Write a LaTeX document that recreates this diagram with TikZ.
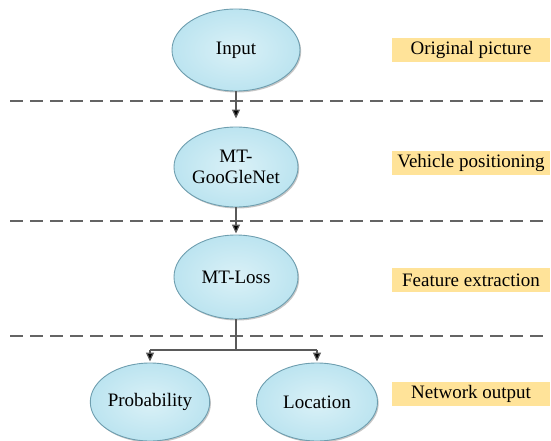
\documentclass[tikz,border=0pt]{standalone}
\usepackage{fontspec}
\setmainfont{Liberation Serif}
\usetikzlibrary{shapes.geometric,arrows.meta,shadows}
\definecolor{ellfill}{RGB}{188,228,240}
\definecolor{ellin}{RGB}{218,241,247}
\definecolor{elledge}{RGB}{110,158,175}
\definecolor{labfill}{RGB}{255,227,153}
\definecolor{dashgray}{RGB}{100,100,100}
\definecolor{linegray}{RGB}{90,90,90}
\tikzset{
  ellnode/.style={ellipse, draw=elledge, line width=0.9pt, inner color=ellin, outer color=ellfill,
    minimum width=128pt, minimum height=82pt, inner sep=0pt, align=center,
    font=\fontsize{19}{21}\selectfont,
    drop shadow={shadow xshift=1.2pt, shadow yshift=-1.5pt, fill=black!45, opacity=0.5}},
  labnode/.style={fill=labfill, minimum width=158pt, minimum height=24pt, inner sep=0pt,
    font=\fontsize{19}{21}\selectfont},
  sepline/.style={draw=dashgray, line width=1.3pt, dash pattern=on 13pt off 7pt},
  conn/.style={draw=linegray, line width=1.2pt},
  arr/.style={conn, -{Triangle[length=9pt,width=8pt,fill=black]}}
}
\begin{document}
\begin{tikzpicture}[x=1pt,y=-1pt]
\useasboundingbox (0,0) rectangle (551,441);
% separators
\coordinate (s1a) at (10,101); \coordinate (s1b) at (546,101);
\coordinate (s2a) at (10,221); \coordinate (s2b) at (546,221);
\coordinate (s3a) at (10,336); \coordinate (s3b) at (546,336);
\draw[sepline] (s1a) -- (s1b);
\draw[sepline] (s2a) -- (s2b);
\draw[sepline] (s3a) -- (s3b);
% nodes
\node[ellnode] (input) at (236,50) {Input};
\node[ellnode, minimum width=124pt, minimum height=80pt] (goog) at (236,167) {MT-\\GooGleNet};
\node[ellnode, minimum width=124pt, minimum height=84pt] (loss) at (236,277) {MT-Loss};
\node[ellnode, minimum width=116pt, minimum height=78pt] (prob) at (150,402) {Probability};
\node[ellnode, minimum width=121pt, minimum height=78pt] (loc) at (317,402) {Location};
% labels
\node[labnode] (l1) at (471,50) {Original picture};
\node[labnode] (l2) at (471,163) {Vehicle positioning};
\node[labnode] (l3) at (471,280) {Feature extraction};
\node[labnode] (l4) at (471,394) {Network output};
% connectors
\draw[arr, shorten >=8pt] (input.south) -- (goog.north);
\draw[arr, shorten >=1pt] (goog.south) -- (loss.north);
\coordinate (j) at (236,350);
\coordinate (jl) at (150,350);
\coordinate (jr) at (317,350);
\draw[conn] (loss.south) -- (j);
\draw[conn] (jl) -- (jr);
\draw[arr, shorten >=1pt] (jl) -- (prob.north);
\draw[arr, shorten >=1pt] (jr) -- (loc.north);
\end{tikzpicture}
\end{document}
